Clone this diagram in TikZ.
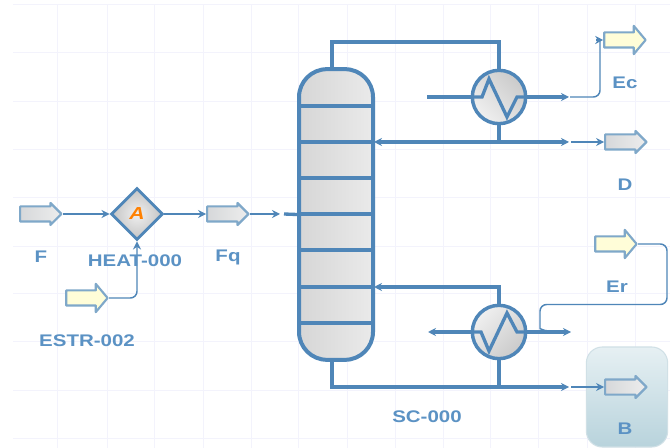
\documentclass[tikz,border=0pt]{standalone}
\usepackage{fontspec}
\setmainfont[FakeStretch=1.22]{Liberation Sans}
\usetikzlibrary{arrows.meta,shapes.geometric,shapes.arrows,calc}
\definecolor{pipe}{HTML}{4F86B8}
\definecolor{edgeb}{HTML}{7FA8C9}
\definecolor{gridc}{HTML}{F3F3FC}
\definecolor{lab}{HTML}{5B92C4}
\definecolor{streamgreyA}{HTML}{D6D8DA}
\definecolor{streamgreyB}{HTML}{EDEDED}
\definecolor{streamyellow}{HTML}{FFFDD8}
\definecolor{exchdark}{HTML}{CACACA}
\definecolor{exchlight}{HTML}{F0F0F0}
\definecolor{panelline}{HTML}{D0E0E6}
\definecolor{paneltop}{HTML}{E6F0F3}
\definecolor{panelbot}{HTML}{B8D3DC}
\definecolor{colleft}{HTML}{D6D6D6}
\definecolor{colright}{HTML}{EAEAEA}
\definecolor{heatin}{HTML}{EFEFEF}
\definecolor{heatout}{HTML}{C4C4C4}
\tikzset{
  gridline/.style={draw=gridc,line width=0.75pt},
  thinpipe/.style={draw=pipe,line width=1.1pt,rounded corners=5pt},
  thickpipe/.style={draw=pipe,line width=2.5pt},
  tipend/.style={-{Stealth[length=6pt,width=6pt]}},
  tipboth/.style={{Stealth[length=6pt,width=6pt]}-{Stealth[length=6pt,width=6pt]}},
  stream/.style={single arrow,draw=edgeb,line width=1.6pt,line join=round,inner sep=0pt,
    text height=4.875pt,text depth=4.875pt,text width=0pt,
    minimum height=31pt,anchor=tip},
  greystream/.style={stream,single arrow head extend=2.6pt,single arrow tip angle=90,
    left color=streamgreyA,right color=streamgreyB},
  yellowstream/.style={stream,single arrow head extend=4.9pt,single arrow tip angle=100,fill=streamyellow},
  exch/.style={circle,draw=pipe,line width=2.6pt,minimum size=40pt,inner sep=0pt,
    top color=exchdark,bottom color=exchlight},
  lbl/.style={text=lab,font=\bfseries\fontsize{12.6}{14}\selectfont,inner sep=0pt},
}
\begin{document}
\begin{tikzpicture}[x=0.75pt,y=-0.75pt]
\useasboundingbox (0,0) rectangle (670,448);
\fill[white] (0,0) rectangle (670,448);
% grid
\foreach \gy in {5,53,102,150,198,247,294,342,390,438}
  \draw[gridline] (13,\gy) -- (670,\gy);
\foreach \gx in {57,107,154,203,251,298,347,395,443,490,538,587,635}
  \draw[gridline] (\gx,5) -- (\gx,448);
% B panel
\node[name=panel,draw=panelline,line width=0.8pt,rounded corners=12pt,top color=paneltop,bottom color=panelbot,
  minimum width=61pt,minimum height=75pt,inner sep=0pt] at (627,397) {};
% column
\node[name=col,draw=pipe,line width=3pt,rounded corners=21pt,left color=colleft,right color=colright,
  minimum width=55.5pt,minimum height=218pt,inner sep=0pt] at (336,214.5) {};
\foreach \ty in {106,142,178,214,250,287,323}
  \draw[pipe,line width=2.6pt] (299,\ty) -- (373,\ty);
% exchangers
\node[exch,name=cond,shading angle=-45] at (499,97) {};
\node[exch,name=reb,shading angle=-135] at (499,332) {};
\draw[pipe,line width=2.5pt,line join=miter] (472,97) -- (482,97) -- (489,79) -- (507,117) -- (517,97) -- (527,97);
\draw[pipe,line width=2.5pt,line join=miter] (472,332) -- (481,332) -- (489,351) -- (507,313) -- (517,332) -- (527,332);
% heater
\node[diamond,name=heat,draw=pipe,line width=2.2pt,inner sep=0pt,minimum size=39pt,
  inner color=heatin,outer color=heatout,text=orange,font=\bfseries\itshape\fontsize{13}{14}\selectfont] at (137,214) {A};
% streams
\node[greystream,name=F] at (63,214) {};
\node[greystream,name=Fq] at (250,214) {};
\node[greystream,name=D] at (648,142) {};
\node[greystream,name=B] at (648,387) {};
\node[yellowstream,name=Estr] at (109,298) {};
\node[yellowstream,name=Ec] at (647,40) {};
\node[yellowstream,name=Er] at (638,244) {};
% coordinates
\coordinate (feedend) at (280,214);
\coordinate (thickin) at (284,214);
\coordinate (topa) at (332,42);
\coordinate (topb) at (499,42);
\coordinate (coltop) at (332,69);
\coordinate (colbot) at (332,360);
\coordinate (condin) at (427,97);
\coordinate (condout) at (569,97);
\coordinate (condthin) at (570,97);
\coordinate (ecbend) at (600,97);
\coordinate (ectop) at (600,40);
\coordinate (ectip) at (596,40);
\coordinate (dtee) at (499,142);
\coordinate (dleft) at (374,142);
\coordinate (dright) at (569,142);
\coordinate (dthin) at (571,142);
\coordinate (rtop) at (499,287);
\coordinate (rleft) at (374,287);
\coordinate (rout) at (428,332);
\coordinate (rhot) at (571,332);
\coordinate (bbend) at (332,387);
\coordinate (btee) at (499,387);
\coordinate (bright) at (569,387);
\coordinate (bthin) at (571,387);
\coordinate (ercorner) at (667,244);
\coordinate (ercorner2) at (667,304.5);
\coordinate (ercorner3) at (540,304.5);
\coordinate (ercorner4) at (540,322);
\coordinate (erctrlA) at (540,328);
\coordinate (erctrlB) at (543,331);
\coordinate (erend) at (549,331);
% thin connectors
\draw[thinpipe,tipend] (F.tip) -- (heat.west);
\draw[thinpipe,tipend] (heat.east) -- (Fq.tail);
\draw[thinpipe,tipend] (Fq.tip) -- (feedend);
\draw[thinpipe,tipend] (Estr.tip) -| (heat.south);
\draw[thinpipe] (condthin) -- (ecbend) -- (ectop);
\draw[thinpipe,tipend] (ectip) -- (Ec.tail);
\draw[thinpipe,tipend] (dthin) -- (D.tail);
\draw[thinpipe,tipend] (bthin) -- (B.tail);
\draw[thinpipe] (Er.tip) -- (ercorner) -- (ercorner2) -- (ercorner3) -- (ercorner4) .. controls (erctrlA) and (erctrlB) .. (erend);
% thick connectors
\draw[thickpipe] (thickin) -- (col.west);
\draw[thickpipe] (coltop) -- (topa) -- (topb) -- (cond.north);
\draw[thickpipe] (condin) -- (cond.west);
\draw[thickpipe,tipend] (cond.east) -- (condout);
\draw[thickpipe] (cond.south) -- (dtee);
\draw[thickpipe,tipboth] (dleft) -- (dright);
\draw[thickpipe,tipend] (reb.north) -- (rtop) -- (rleft);
\draw[thickpipe,tipend] (reb.west) -- (rout);
\draw[thickpipe,tipend] (reb.east) -- (rhot);
\draw[thickpipe] (reb.south) -- (btee);
\draw[thickpipe,tipend] (colbot) -- (bbend) -- (bright);
% labels
\node[lbl,name=lF] at (41,257) {F};
\node[lbl,name=lheat] at (135,261) {HEAT-000};
\node[lbl,name=lFq] at (228,257) {Fq};
\node[lbl,name=lestr] at (87,341) {ESTR-002};
\node[lbl,name=lEc] at (625,83) {Ec};
\node[lbl,name=lD] at (625,185) {D};
\node[lbl,name=lEr] at (617,287) {Er};
\node[lbl,name=lSC] at (427,417) {SC-000};
\node[lbl,name=lB] at (625,429) {B};
\end{tikzpicture}
\end{document}
